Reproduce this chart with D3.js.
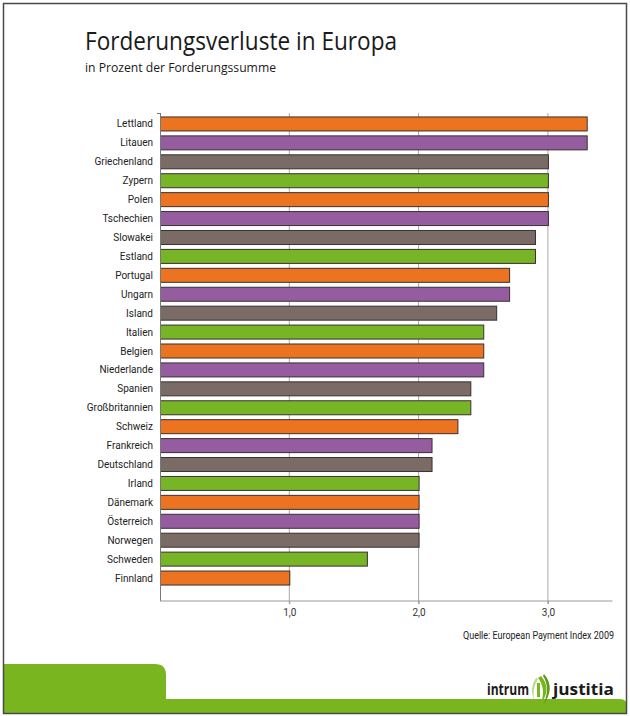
<!DOCTYPE html>
<html><head><meta charset="utf-8">
<script src="https://cdn.jsdelivr.net/npm/d3@7"></script>
<style>body{margin:0;background:#fff}svg{display:block}</style>
</head><body>
<script>
const countries = ["Lettland","Litauen","Griechenland","Zypern","Polen","Tschechien","Slowakei","Estland","Portugal","Ungarn","Island","Italien","Belgien","Niederlande","Spanien","Großbritannien","Schweiz","Frankreich","Deutschland","Irland","Dänemark","Österreich","Norwegen","Schweden","Finnland"];
const values = [3.3,3.3,3.0,3.0,3.0,3.0,2.9,2.9,2.7,2.7,2.6,2.5,2.5,2.5,2.4,2.4,2.3,2.1,2.1,2.0,2.0,2.0,2.0,1.6,1.0];
const palette = ["#EC7420","#955CA0","#7B6B66","#78B526"];
const tickValues = [1,2,3];
const tickLabels = ["1,0","2,0","3,0"];

const W=630,H=716;
const svg=d3.select("body").append("svg").attr("width",W).attr("height",H);
const font="'Open Sans', sans-serif";
const font2="Roboto, sans-serif";

// green band
svg.append("path")
  .attr("d","M3,714 L3,664 L155,664 Q166,664 166,675 L166,699 L620,699 Q627,699 627,706 L627,714 Z")
  .attr("fill","#79B51F");
// frame
svg.append("rect").attr("x",3.5).attr("y",3.5).attr("width",623).attr("height",710)
  .attr("fill","none").attr("stroke","#4a4a4a").attr("stroke-width",1.5);

svg.append("text").attr("x",85).attr("y",50).attr("font-family",font).attr("font-size",26)
  .attr("textLength",312).attr("lengthAdjust","spacingAndGlyphs").attr("fill","#1a1a1a")
  .text("Forderungsverluste in Europa");
svg.append("text").attr("x",85).attr("y",72).attr("font-family",font).attr("font-size",12.5)
  .attr("textLength",191).attr("lengthAdjust","spacingAndGlyphs").attr("fill","#1a1a1a")
  .text("in Prozent der Forderungssumme");

const x=d3.scaleLinear().domain([0,3.5]).range([160,160+3.5*129.3]);
const y=d3.scaleBand().domain(countries).range([114.5,587.5]).paddingInner(0.26).paddingOuter(0.13);
const axisY=601;

// grid lines
svg.append("g").selectAll("line").data(tickValues).join("line")
  .attr("x1",d=>x(d)).attr("x2",d=>x(d)).attr("y1",113).attr("y2",axisY+3)
  .attr("stroke","#a8a8a8").attr("stroke-width",1);

// bars
svg.append("g").selectAll("rect").data(countries).join("rect")
  .attr("x",x(0)+0.5).attr("y",d=>y(d))
  .attr("width",(d,i)=>x(values[i])-x(0)).attr("height",y.bandwidth())
  .attr("fill",(d,i)=>palette[i%4]).attr("stroke","#3a3030").attr("stroke-width",1);

// y axis line
svg.append("line").attr("x1",160.5).attr("x2",160.5).attr("y1",113).attr("y2",axisY)
  .attr("stroke","#777").attr("stroke-width",1);
svg.append("line").attr("x1",157).attr("x2",160.5).attr("y1",113.5).attr("y2",113.5)
  .attr("stroke","#777");

// x axis
const xa=d3.axisBottom(x).tickValues(tickValues).tickFormat((d,i)=>tickLabels[i]).tickSize(3).tickSizeOuter(0);
const gx=svg.append("g").attr("transform",`translate(0,${axisY})`).call(xa);
gx.select(".domain").attr("d",`M${x(0)},0H${x(3.5)}`).attr("stroke","#999");
gx.selectAll(".tick line").attr("stroke","#999");
gx.selectAll(".tick text").attr("font-family",font2).attr("font-size",10).attr("fill","#333").attr("dy","0.9em");

// labels
svg.append("g").selectAll("text").data(countries).join("text")
  .attr("x",153).attr("y",d=>y(d)+y.bandwidth()/2).attr("dy","0.35em")
  .attr("text-anchor","end").attr("font-family",font2).attr("font-size",10).attr("fill","#222")
  .text(d=>d);

svg.append("text").attr("x",614).attr("y",639).attr("text-anchor","end")
  .attr("font-family",font2).attr("font-size",10).attr("fill","#222")
  .attr("textLength",151).attr("lengthAdjust","spacingAndGlyphs")
  .text("Quelle: European Payment Index 2009");

// logo
svg.append("text").attr("x",487).attr("y",695).attr("font-family",font).attr("font-weight",700)
  .attr("font-size",16).attr("textLength",42).attr("lengthAdjust","spacingAndGlyphs").attr("fill","#1a1a1a").text("intrum");
svg.append("text").attr("x",553).attr("y",695).attr("font-family",font).attr("font-weight",700)
  .attr("font-size",16).attr("textLength",61).attr("lengthAdjust","spacingAndGlyphs").attr("fill","#1a1a1a").text("justitia");
const logo=svg.append("g");
logo.append("path").attr("d","M536,678 Q529,688 534,700 Q532,688 538,679 Z").attr("fill","#B9D98A");
logo.append("path").attr("d","M541,676 Q552,688 541,704 Q546,688 538,678 Z").attr("fill","#79B51F");
logo.append("path").attr("d","M544,674 Q556,688 543,705 Q551,688 543,676 Z").attr("fill","#5E9A1A");
logo.append("rect").attr("x",537).attr("y",683).attr("width",3).attr("height",14).attr("fill","#79B51F");
</script>
</body></html>
